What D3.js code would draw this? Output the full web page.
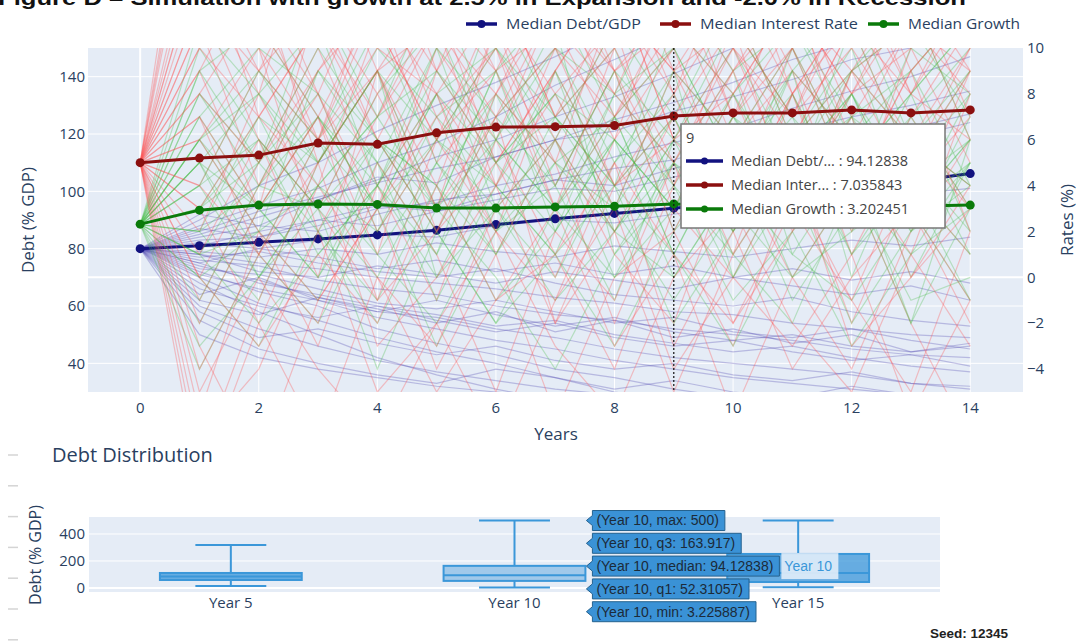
<!DOCTYPE html>
<html>
<head>
<meta charset="utf-8">
<script src="https://cdn.jsdelivr.net/npm/d3@7"></script>
<style>
  body { margin: 0; background: #fff; }
  svg { display: block; font-family: "Open Sans", Verdana, Arial, sans-serif; }
</style>
</head>
<body>
<svg width="1079" height="641"></svg>
<script>
// ---- data ----
var years = d3.range(0, 15);
var medianDebt = [80.0, 81.0, 82.2, 83.4, 84.8, 86.4, 88.4, 90.4, 92.3, 94.12838, 96.1, 98.3, 100.9, 103.4, 106.2];
var medianRate = [5.0, 5.2, 5.33, 5.86, 5.8, 6.3, 6.55, 6.57, 6.62, 7.035843, 7.17, 7.17, 7.3, 7.17, 7.3];
var medianGrowth = [2.32, 2.93, 3.15, 3.2, 3.18, 3.02, 3.02, 3.07, 3.1, 3.202451, 3.12, 3.1, 3.12, 3.1, 3.15];

// simulated paths (rough estimates of the spaghetti behind the medians)
var debtPaths = [
  [80,72,65,60,52,47,43,38,35,31,28,26,24,22,20],
  [80,85,91,97,104,112,118,126,133,141,150,158,166,175,184],
  [80,76,74,69,66,64,60,57,55,52,50,48,45,43,42],
  [80,88,95,101,110,117,126,137,146,155,165,176,186,197,210],
  [80,70,61,55,49,44,40,35,30,27,25,22,20,19,18],
  [80,82,80,83,85,84,88,90,89,92,95,94,97,99,101],
  [80,78,72,70,74,71,68,72,69,66,70,67,64,67,62],
  [80,90,102,110,121,130,138,147,157,166,178,188,197,209,220],
  [80,74,69,63,58,56,52,49,45,42,40,38,36,33,32],
  [80,84,88,86,92,97,99,104,108,111,117,121,126,130,135],
  [80,77,79,75,72,70,73,68,64,62,60,63,58,55,53],
  [80,68,58,50,42,36,31,27,24,21,18,16,14,13,12],
  [80,81,86,90,88,93,97,101,100,105,109,112,116,119,124],
  [80,79,77,80,78,82,79,77,81,79,77,80,83,81,84],
  [80,73,71,66,61,59,62,58,54,56,51,49,52,48,45],
  [80,86,93,98,103,108,112,118,121,128,133,139,146,150,157],
  [80,75,68,64,60,57,53,55,50,47,44,46,42,39,37],
  [80,83,84,88,94,96,102,106,112,117,122,129,135,140,147],
  [80,71,66,62,56,52,48,45,41,38,35,33,31,29,27],
  [80,78,75,73,70,68,66,63,61,58,57,54,52,50,49],
  [80,55,45,40,36,33,38,35,31,34,30,28,32,29,26],
  [80,62,57,63,59,54,58,51,55,49,52,47,50,44,47],
  [80,60,52,46,41,37,34,31,29,27,25,23,22,21,20],
  [80,92,88,97,105,103,112,118,125,131,138,146,152,161,168],
  [80,66,60,56,60,55,51,54,49,46,48,44,41,43,39],
  [80,75,80,77,73,76,72,75,71,74,70,73,69,72,68],
  [80,58,49,52,47,43,46,41,38,40,36,34,37,33,31],
  [80,87,84,90,95,93,99,104,102,108,113,118,116,122,127],
  [80,64,70,62,58,62,57,53,56,51,48,50,46,44,46],
  [80,50,42,38,35,32,30,28,26,25,24,23,22,21,20]
];
var ratePaths = [
  [5,14,9,12,6,11,8,13,7,10,12,6,9,11,8],
  [5,-6,2,-3,4,-1,6,1,-4,3,0,5,-2,4,1],
  [5,11,4,9,13,7,10,5,12,8,14,9,6,11,13],
  [5,2,8,3,-1,6,2,9,4,7,1,8,3,10,5],
  [5,16,12,8,14,10,6,12,15,9,11,7,13,8,12],
  [5,-3,-8,-1,3,-4,1,-6,0,2,-3,4,-1,-5,2],
  [5,8,12,6,10,14,9,11,6,13,9,12,8,10,14],
  [5,0,5,10,4,8,1,6,11,3,8,2,9,4,7],
  [5,19,11,15,9,13,17,10,14,8,12,16,10,13,9],
  [5,7,1,5,9,3,7,-2,4,8,2,6,11,5,9],
  [5,-9,-2,-7,0,-5,-1,3,-3,1,-6,0,4,-2,-7],
  [5,12,6,3,8,12,5,9,13,6,10,4,8,12,6],
  [5,3,-2,4,0,-3,3,6,1,-2,5,0,-4,2,6],
  [5,10,15,11,7,12,9,14,10,5,9,13,7,11,9],
  [5,6,10,2,7,11,4,8,3,9,6,10,5,1,8],
  [5,-1,4,8,2,6,10,3,7,12,6,9,2,7,11],
  [5,13,8,16,11,6,12,8,11,14,7,11,15,9,12],
  [5,4,9,6,12,5,8,12,9,4,11,7,10,6,4],
  [5,9,3,7,1,9,5,0,6,10,3,8,1,6,3],
  [5,-4,1,-2,5,1,-5,2,-1,5,-2,3,7,0,4],
  [5,15,7,11,16,9,13,7,10,12,15,8,11,14,10],
  [5,1,6,0,9,4,11,6,2,7,11,3,9,13,7],
  [5,11,13,5,9,2,7,10,4,6,8,12,6,3,9],
  [5,-7,-4,2,-5,-2,-7,-1,3,-4,0,-3,1,-6,-1],
  [5,22,14,10,12,16,11,15,12,9,13,10,14,12,15],
  [5,7,3,12,8,3,11,4,9,2,7,13,4,9,2],
  [5,18,10,6,13,9,15,11,8,14,10,7,12,16,11],
  [5,-2,3,7,-1,2,8,5,-2,4,9,3,-1,5,10],
  [5,9,14,8,3,10,13,7,12,9,4,10,14,8,6],
  [5,12,9,14,10,8,12,15,9,11,13,8,12,10,14],
  [5,3,7,11,6,2,5,9,13,6,3,8,12,7,3],
  [5,-5,0,-4,-7,-2,2,-3,-6,0,3,-2,-5,1,-3],
  [5,14,11,7,12,15,10,13,9,12,16,12,8,13,11],
  [5,6,2,-1,3,7,2,-1,5,1,-2,2,6,3,-1],
  [5,20,16,12,15,11,14,18,13,10,14,11,15,17,12],
  [5,8,5,9,12,8,4,10,7,11,8,12,9,6,10],
  [5,0,-3,1,-2,4,-1,1,5,-3,2,-4,0,3,-2],
  [5,10,7,4,11,6,9,3,10,13,7,10,4,9,12],
  [5,4,1,6,9,11,7,12,8,5,10,6,11,8,13],
  [5,-8,-1,5,-3,0,4,-2,2,-5,1,5,-3,0,3]
];
var growthPaths = [
  [2.3,5,1,6,3,8,2,5,7,1,6,4,8,3,5],
  [2.3,-2,3,0,5,-1,4,1,-3,2,5,-1,3,6,1],
  [2.3,8,4,9,6,2,7,10,5,8,3,9,6,2,7],
  [2.3,3,7,2,-1,4,8,3,6,0,4,7,1,5,9],
  [2.3,6,9,5,10,7,4,9,2,6,10,5,8,4,6],
  [2.3,0,-3,2,-2,3,0,-4,1,4,-1,2,-3,1,3],
  [2.3,10,6,3,8,11,5,7,10,4,8,11,6,9,4],
  [2.3,1,5,8,2,6,3,9,4,7,2,6,10,3,8],
  [2.3,4,0,4,7,3,9,2,8,5,9,1,5,8,2],
  [2.3,7,3,6,1,5,1,6,0,3,7,3,7,0,5],
  [2.3,-4,1,-2,3,-3,2,4,-1,6,1,-2,4,-1,0],
  [2.3,5,8,11,4,9,6,3,8,10,5,8,2,7,10],
  [2.3,2,-1,5,9,0,5,8,3,-1,3,10,4,-2,6],
  [2.3,9,11,7,3,8,10,6,11,7,12,6,9,11,7],
  [2.3,3,6,1,4,10,3,0,5,9,0,5,7,3,-1],
  [2.3,6,2,9,5,1,8,5,2,6,4,9,0,6,4],
  [2.3,-1,4,3,-4,2,-2,3,7,1,-3,2,5,-2,3],
  [2.3,4,9,6,11,5,12,7,4,11,8,3,9,12,6],
  [2.3,1,2,-1,6,4,-1,2,6,3,6,0,2,4,1],
  [2.3,8,5,12,7,13,6,10,8,13,9,11,7,9,12],
  [2.3,5,0,4,2,7,9,4,9,2,7,4,11,5,8],
  [2.3,2,7,5,9,3,6,11,1,5,2,8,3,8,11],
  [2.3,3,5,2,6,4,1,5,3,7,2,6,4,1,5],
  [2.3,6,3,7,4,8,5,2,6,3,8,4,7,5,2],
  [2.3,0,2,4,1,-2,3,6,2,0,4,1,-1,3,6],
  [2.3,11,8,5,9,6,10,7,3,9,6,10,5,8,11],
  [2.3,4,6,3,0,5,2,7,4,1,6,3,8,2,4],
  [2.3,-3,0,3,6,2,-2,1,4,-2,2,6,1,4,-1],
  [2.3,7,10,8,5,10,7,4,9,6,11,7,4,10,8],
  [2.3,2,4,7,3,6,4,1,7,4,1,5,8,3,6],
  [2.3,5,3,0,4,1,6,3,0,5,3,0,4,7,3],
  [2.3,9,5,10,6,3,9,12,7,10,5,9,12,6,9],
  [2.3,1,-2,1,4,0,3,-1,2,5,0,4,-2,2,5],
  [2.3,6,8,4,7,9,5,8,6,3,7,5,9,6,4]
];

var leftTicks = [40, 60, 80, 100, 120, 140];
var rightTicks = [-4, -2, 0, 2, 4, 6, 8, 10];
var xTicks = [0, 2, 4, 6, 8, 10, 12, 14];
var hoverYear = 9;

// debt distribution boxes
var boxCats = ["Year 5", "Year 10", "Year 15"];
var boxMin = [14, 3.225887, 5];
var boxQ1 = [59, 52.31057, 44];
var boxMed = [85, 94.12838, 111];
var boxQ3 = [111, 163.917, 252];
var boxMax = [318, 500, 500];
var boxTicks = [0, 200, 400];
var hoverBox = 1;

var seriesNames = ["Median Debt/GDP", "Median Interest Rate", "Median Growth"];
var seriesColors = ["#12127f", "#8b0f0f", "#0a7a0a"];

var svg = d3.select("svg");
var font = "#2a3f5f";

// ---- title (cut at the top edge, as in the source) ----
svg.append("text")
    .attr("x", -2).attr("y", 5)
    .attr("textLength", 968).attr("lengthAdjust", "spacingAndGlyphs")
    .style("font-family", "'Liberation Sans', Arial, sans-serif")
    .style("font-weight", "bold").style("font-size", "21px").style("fill", "#111")
    .text("Figure D \u2013 Simulation with growth at 2.5% in Expansion and -2.0% in Recession");

// ---- main chart ----
var x = d3.scaleLinear().domain([-0.88, 14.89]).range([88, 1023]);
var yL = d3.scaleLinear().domain([30, 150]).range([392, 48]);
var yR = d3.scaleLinear().domain([-5, 10]).range([392, 48]);

svg.append("rect").attr("x", 88).attr("y", 48).attr("width", 935).attr("height", 344).attr("fill", "#e5ecf6");

svg.selectAll(".hgrid").data(leftTicks).enter().append("line")
    .attr("x1", 88).attr("x2", 1023)
    .attr("y1", function (d) { return yL(d); }).attr("y2", function (d) { return yL(d); })
    .attr("stroke", "#fff").attr("stroke-width", 1);
svg.selectAll(".vgrid").data(xTicks).enter().append("line")
    .attr("y1", 48).attr("y2", 392)
    .attr("x1", function (d) { return x(d); }).attr("x2", function (d) { return x(d); })
    .attr("stroke", "#fff").attr("stroke-width", function (d) { return d === 0 ? 2 : 1; });
svg.append("line").attr("x1", 88).attr("x2", 1023).attr("y1", yR(0)).attr("y2", yR(0))
    .attr("stroke", "#fff").attr("stroke-width", 2);

svg.append("clipPath").attr("id", "plotclip").append("rect")
    .attr("x", 88).attr("y", 48).attr("width", 935).attr("height", 344);
var plot = svg.append("g").attr("clip-path", "url(#plotclip)");

var lineL = d3.line().x(function (d, i) { return x(years[i]); }).y(function (d) { return yL(d); });
var lineR = d3.line().x(function (d, i) { return x(years[i]); }).y(function (d) { return yR(d); });

// debt layer (left axis)
plot.selectAll(".debtpath").data(debtPaths).enter().append("path")
    .attr("d", lineL).attr("fill", "none")
    .attr("stroke", "rgb(60,50,170)").attr("stroke-opacity", 0.28).attr("stroke-width", 1.2);
plot.append("path").attr("d", lineL(medianDebt)).attr("fill", "none")
    .attr("stroke", seriesColors[0]).attr("stroke-width", 3);
plot.selectAll(".debtdot").data(medianDebt).enter().append("circle")
    .attr("cx", function (d, i) { return x(years[i]); }).attr("cy", function (d) { return yL(d); })
    .attr("r", 4.5).attr("fill", seriesColors[0]);

// rates layer (right axis) sits above the debt layer
var both = [];
for (i = 0; i < Math.max(ratePaths.length, growthPaths.length); i++) {
    if (ratePaths[i]) both.push({ v: ratePaths[i], c: "rgb(255,80,80)", o: 0.32 });
    if (growthPaths[i]) both.push({ v: growthPaths[i], c: "rgb(70,190,70)", o: 0.3 });
}
plot.selectAll(".ratepath").data(both).enter().append("path")
    .attr("d", function (d) { return lineR(d.v); }).attr("fill", "none")
    .attr("stroke", function (d) { return d.c; })
    .attr("stroke-opacity", function (d) { return d.o; }).attr("stroke-width", 1.2);

[[medianRate, seriesColors[1]], [medianGrowth, seriesColors[2]]].forEach(function (s) {
    plot.append("path").attr("d", lineR(s[0])).attr("fill", "none")
        .attr("stroke", s[1]).attr("stroke-width", 3);
    plot.selectAll(null).data(s[0]).enter().append("circle")
        .attr("cx", function (d, i) { return x(years[i]); }).attr("cy", function (d) { return yR(d); })
        .attr("r", 4.5).attr("fill", s[1]);
});

// axes labels
svg.selectAll(".lt").data(leftTicks).enter().append("text")
    .attr("x", 85).attr("y", function (d) { return yL(d); }).attr("dy", "0.35em")
    .attr("text-anchor", "end").style("font-size", "15px").style("fill", font).text(function (d) { return d; });
svg.selectAll(".rt").data(rightTicks).enter().append("text")
    .attr("x", 1027).attr("y", function (d) { return yR(d); }).attr("dy", "0.35em")
    .style("font-size", "15px").style("fill", font)
    .text(function (d) { return d < 0 ? "\u2212" + Math.abs(d) : d; });
svg.selectAll(".xt").data(xTicks).enter().append("text")
    .attr("x", function (d) { return x(d); }).attr("y", 413)
    .attr("text-anchor", "middle").style("font-size", "15px").style("fill", font).text(function (d) { return d; });

svg.append("text").attr("x", 556).attr("y", 440).attr("text-anchor", "middle")
    .style("font-size", "17px").style("fill", font).text("Years");
svg.append("text").attr("transform", "translate(34,220) rotate(-90)").attr("text-anchor", "middle")
    .style("font-size", "17px").style("fill", font).text("Debt (% GDP)");
svg.append("text").attr("transform", "translate(1073,220) rotate(-90)").attr("text-anchor", "middle")
    .style("font-size", "17px").style("fill", font).text("Rates (%)");

// legend
var legX = [466, 660, 868];
var legW = [135, 158, 112];
seriesNames.forEach(function (n, i) {
    var g = svg.append("g").attr("transform", "translate(" + legX[i] + ",24)");
    g.append("line").attr("x1", 0).attr("x2", 31).attr("stroke", seriesColors[i]).attr("stroke-width", 3.5);
    g.append("circle").attr("cx", 15.5).attr("r", 4).attr("fill", seriesColors[i]);
    g.append("text").attr("x", 40).attr("dy", "0.35em").attr("textLength", legW[i])
        .attr("lengthAdjust", "spacingAndGlyphs")
        .style("font-size", "14px").style("fill", font).text(n);
});

// hover spike + tooltip
svg.append("line").attr("x1", x(hoverYear)).attr("x2", x(hoverYear)).attr("y1", 48).attr("y2", 392)
    .attr("stroke", "#111").attr("stroke-width", 1.2).attr("stroke-dasharray", "2,2");

var tip = svg.append("g").attr("transform", "translate(681,124)");
tip.append("rect").attr("width", 264).attr("height", 104).attr("fill", "#fff")
    .attr("stroke", "#777").attr("stroke-width", 1.5);
tip.append("text").attr("x", 5).attr("y", 19).style("font-size", "14.5px").style("fill", "#444").text(hoverYear);
var tipRows = [
    "Median Debt/... : " + medianDebt[hoverYear],
    "Median Inter... : " + medianRate[hoverYear],
    "Median Growth : " + medianGrowth[hoverYear]
];
tipRows.forEach(function (t, i) {
    var cy = 37 + i * 24;
    tip.append("line").attr("x1", 5).attr("x2", 42).attr("y1", cy).attr("y2", cy)
        .attr("stroke", seriesColors[i]).attr("stroke-width", 3.5);
    tip.append("circle").attr("cx", 23.5).attr("cy", cy).attr("r", 3.5).attr("fill", seriesColors[i]);
    tip.append("text").attr("x", 50).attr("y", cy).attr("dy", "0.35em")
        .style("font-size", "14.5px").style("fill", "#444").text(t);
});

// ---- debt distribution ----
svg.append("text").attr("x", 52).attr("y", 462).style("font-size", "20px").style("fill", font)
    .text("Debt Distribution");

d3.range(455, 645, 30.8).forEach(function (yy) {
    svg.append("line").attr("x1", 8).attr("x2", 18).attr("y1", yy).attr("y2", yy)
        .attr("stroke", "#d4d4d4").attr("stroke-width", 1.5);
});

var bx = d3.scaleBand().domain(boxCats).range([89, 940]);
var by = d3.scaleLinear().domain([-30, 526]).range([592, 517]);

svg.append("rect").attr("x", 89).attr("y", 517).attr("width", 851).attr("height", 75).attr("fill", "#e5ecf6");
svg.selectAll(".bgrid").data(boxTicks).enter().append("line")
    .attr("x1", 89).attr("x2", 940)
    .attr("y1", function (d) { return by(d); }).attr("y2", function (d) { return by(d); })
    .attr("stroke", "#fff").attr("stroke-width", function (d) { return d === 0 ? 2 : 1; });

svg.selectAll(".byt").data(boxTicks).enter().append("text")
    .attr("x", 85).attr("y", function (d) { return by(d); }).attr("dy", "0.35em")
    .attr("text-anchor", "end").style("font-size", "15px").style("fill", font).text(function (d) { return d; });
svg.selectAll(".bxt").data(boxCats).enter().append("text")
    .attr("x", function (d) { return bx(d) + bx.bandwidth() / 2; }).attr("y", 608)
    .attr("text-anchor", "middle").style("font-size", "15px").style("fill", font).text(function (d) { return d; });
svg.append("text").attr("transform", "translate(41,555) rotate(-90)").attr("text-anchor", "middle")
    .style("font-size", "16px").style("fill", font).text("Debt (% GDP)");

var boxColor = "#3b97d9";
boxCats.forEach(function (c, i) {
    var cx = bx(c) + bx.bandwidth() / 2;
    var bw = bx.bandwidth() * 0.5;
    var g = svg.append("g");
    g.append("line").attr("x1", cx).attr("x2", cx).attr("y1", by(boxMax[i])).attr("y2", by(boxQ3[i]))
        .attr("stroke", boxColor).attr("stroke-width", 2);
    g.append("line").attr("x1", cx).attr("x2", cx).attr("y1", by(boxQ1[i])).attr("y2", by(boxMin[i]))
        .attr("stroke", boxColor).attr("stroke-width", 2);
    [boxMax[i], boxMin[i]].forEach(function (v) {
        g.append("line").attr("x1", cx - bw / 4).attr("x2", cx + bw / 4).attr("y1", by(v)).attr("y2", by(v))
            .attr("stroke", boxColor).attr("stroke-width", 2);
    });
    g.append("rect").attr("x", cx - bw / 2).attr("width", bw)
        .attr("y", by(boxQ3[i])).attr("height", by(boxQ1[i]) - by(boxQ3[i]))
        .attr("fill", i === hoverBox ? "rgba(59,151,217,0.4)" : "rgba(59,151,217,0.75)")
        .attr("stroke", boxColor).attr("stroke-width", 2);
    g.append("line").attr("x1", cx - bw / 2).attr("x2", cx + bw / 2).attr("y1", by(boxMed[i])).attr("y2", by(boxMed[i]))
        .attr("stroke", boxColor).attr("stroke-width", 2);
});

// box hover labels
var hb = boxCats[hoverBox];
var hLabels = [
    "(" + hb + ", max: " + boxMax[hoverBox] + ")",
    "(" + hb + ", q3: " + boxQ3[hoverBox] + ")",
    "(" + hb + ", median: " + boxMed[hoverBox] + ")",
    "(" + hb + ", q1: " + boxQ1[hoverBox] + ")",
    "(" + hb + ", min: " + boxMin[hoverBox] + ")"
];
var tipX = bx(hb) + bx.bandwidth() * 0.75 + 1;
hLabels.forEach(function (t, i) {
    var cy = by(boxMax[hoverBox]) + i * 22.8;
    var g = svg.append("g");
    var txt = g.append("text").attr("x", tipX + 10).attr("y", cy).attr("dy", "0.35em")
        .style("font-family", "'Liberation Sans', Arial, sans-serif").style("font-size", "14px")
        .style("fill", "#1c2b3a").text(t);
    var w = txt.node().getComputedTextLength() + 10;
    var x0 = tipX + 6;
    g.insert("path", "text")
        .attr("d", "M" + tipX + "," + cy + " L" + x0 + "," + (cy - 5) + " V" + (cy - 10) + " H" + (x0 + w) +
            " V" + (cy + 10) + " H" + x0 + " V" + (cy + 5) + " Z")
        .attr("fill", "#3a92d6").attr("stroke", "#25628f").attr("stroke-width", 1);
    if (i === 2) {
        var nx = x0 + w + 2;
        g.append("rect").attr("x", nx).attr("y", cy - 13).attr("width", 57).attr("height", 26)
            .attr("fill", "rgba(222,236,249,0.92)");
        g.append("text").attr("x", nx + 3).attr("y", cy).attr("dy", "0.35em")
            .style("font-family", "'Liberation Sans', Arial, sans-serif").style("font-size", "14px")
            .style("fill", boxColor).text(hb);
    }
});

svg.append("text").attr("x", 930).attr("y", 638)
    .style("font-family", "'Liberation Sans', Arial, sans-serif").style("font-weight", "bold")
    .style("font-size", "13.5px").style("fill", "#222").text("Seed: 12345");
</script>
</body>
</html>
